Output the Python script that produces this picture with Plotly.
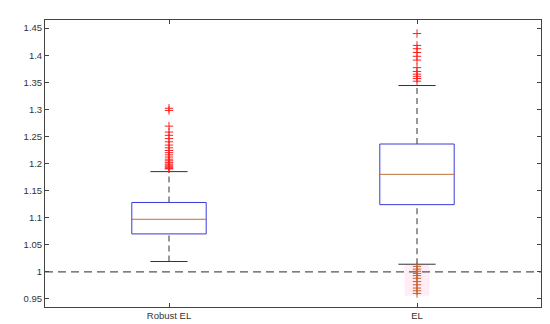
import plotly.graph_objects as go

categories = ["Robust EL", "EL"]
q1 = [1.070, 1.124]
median = [1.097, 1.180]
q3 = [1.128, 1.236]
lower_whisker = [1.019, 1.014]
upper_whisker = [1.185, 1.344]
outliers_robust = [1.302, 1.298, 1.269, 1.258, 1.252, 1.246, 1.240, 1.234, 1.229, 1.224,
                   1.220, 1.216, 1.212, 1.208, 1.205, 1.202, 1.199, 1.197, 1.195, 1.193, 1.191, 1.190]
outliers_el_high = [1.440, 1.418, 1.412, 1.405, 1.398, 1.391, 1.377, 1.370, 1.365, 1.361, 1.357, 1.352]
outliers_el_low = [1.010, 1.005, 1.001, 0.997, 0.993, 0.988, 0.982, 0.976, 0.970, 0.965, 0.960]
reference_value = 1.0
yticks = [0.95, 1, 1.05, 1.1, 1.15, 1.2, 1.25, 1.3, 1.35, 1.4, 1.45]

box_half = 0.15
cap_half = 0.075
fig = go.Figure()

# faint highlight behind the low EL outliers
fig.add_trace(go.Scatter(x=[1.95, 2.05, 2.05, 1.95, 1.95],
                         y=[min(outliers_el_low) - 0.004, min(outliers_el_low) - 0.004,
                            max(outliers_el_low) + 0.004, max(outliers_el_low) + 0.004,
                            min(outliers_el_low) - 0.004],
                         mode="lines", fill="toself", fillcolor="rgba(255,150,200,0.18)",
                         line=dict(width=0), hoverinfo="skip", showlegend=False))

# reference dashed line
fig.add_trace(go.Scatter(x=[0.5, 2.5], y=[reference_value, reference_value], mode="lines",
                         line=dict(color="#555555", width=1.2, dash="8px,5px"),
                         hoverinfo="skip", showlegend=False))

for i, cat in enumerate(categories):
    x = i + 1
    fig.add_trace(go.Scatter(x=[x, x], y=[q3[i], upper_whisker[i]], mode="lines",
                             line=dict(color="#333333", width=1, dash="6px,4px"), showlegend=False))
    fig.add_trace(go.Scatter(x=[x, x], y=[lower_whisker[i], q1[i]], mode="lines",
                             line=dict(color="#333333", width=1, dash="6px,4px"), showlegend=False))
    for w in (upper_whisker[i], lower_whisker[i]):
        fig.add_trace(go.Scatter(x=[x - cap_half, x + cap_half], y=[w, w], mode="lines",
                                 line=dict(color="#333333", width=1), showlegend=False))
    fig.add_trace(go.Scatter(x=[x - box_half, x + box_half, x + box_half, x - box_half, x - box_half],
                             y=[q1[i], q1[i], q3[i], q3[i], q1[i]], mode="lines",
                             line=dict(color="#3a3ad8", width=1), showlegend=False))
    fig.add_trace(go.Scatter(x=[x - box_half, x + box_half], y=[median[i], median[i]], mode="lines",
                             line=dict(color="#c0703a", width=1), showlegend=False))

def plus(color):
    return dict(symbol="cross-thin-open", size=6, color=color, line=dict(color=color, width=1))

fig.add_trace(go.Scatter(x=[1] * len(outliers_robust), y=outliers_robust, mode="markers",
                         marker=plus("#ff2020"), showlegend=False))
fig.add_trace(go.Scatter(x=[2] * len(outliers_el_high), y=outliers_el_high, mode="markers",
                         marker=plus("#ff2020"), showlegend=False))
fig.add_trace(go.Scatter(x=[2] * len(outliers_el_low), y=outliers_el_low, mode="markers",
                         marker=plus("#c8602a"), showlegend=False))

axis_common = dict(showline=True, linecolor="#444444", linewidth=1, mirror="ticks",
                   ticks="inside", ticklen=4, tickcolor="#444444", showgrid=False, zeroline=False,
                   tickfont=dict(family="Liberation Sans, Arial", size=9.5, color="#333333"))
fig.update_layout(
    width=550, height=324, margin=dict(l=37, r=17, t=11, b=20),
    plot_bgcolor="white", paper_bgcolor="white", showlegend=False,
    xaxis=dict(range=[0.5, 2.5], tickvals=[1, 2], ticktext=categories, **axis_common),
    yaxis=dict(range=[0.935, 1.465], tickvals=yticks, ticktext=[f"{v:g}" for v in yticks], **axis_common),
)
fig.write_html("out.html")
